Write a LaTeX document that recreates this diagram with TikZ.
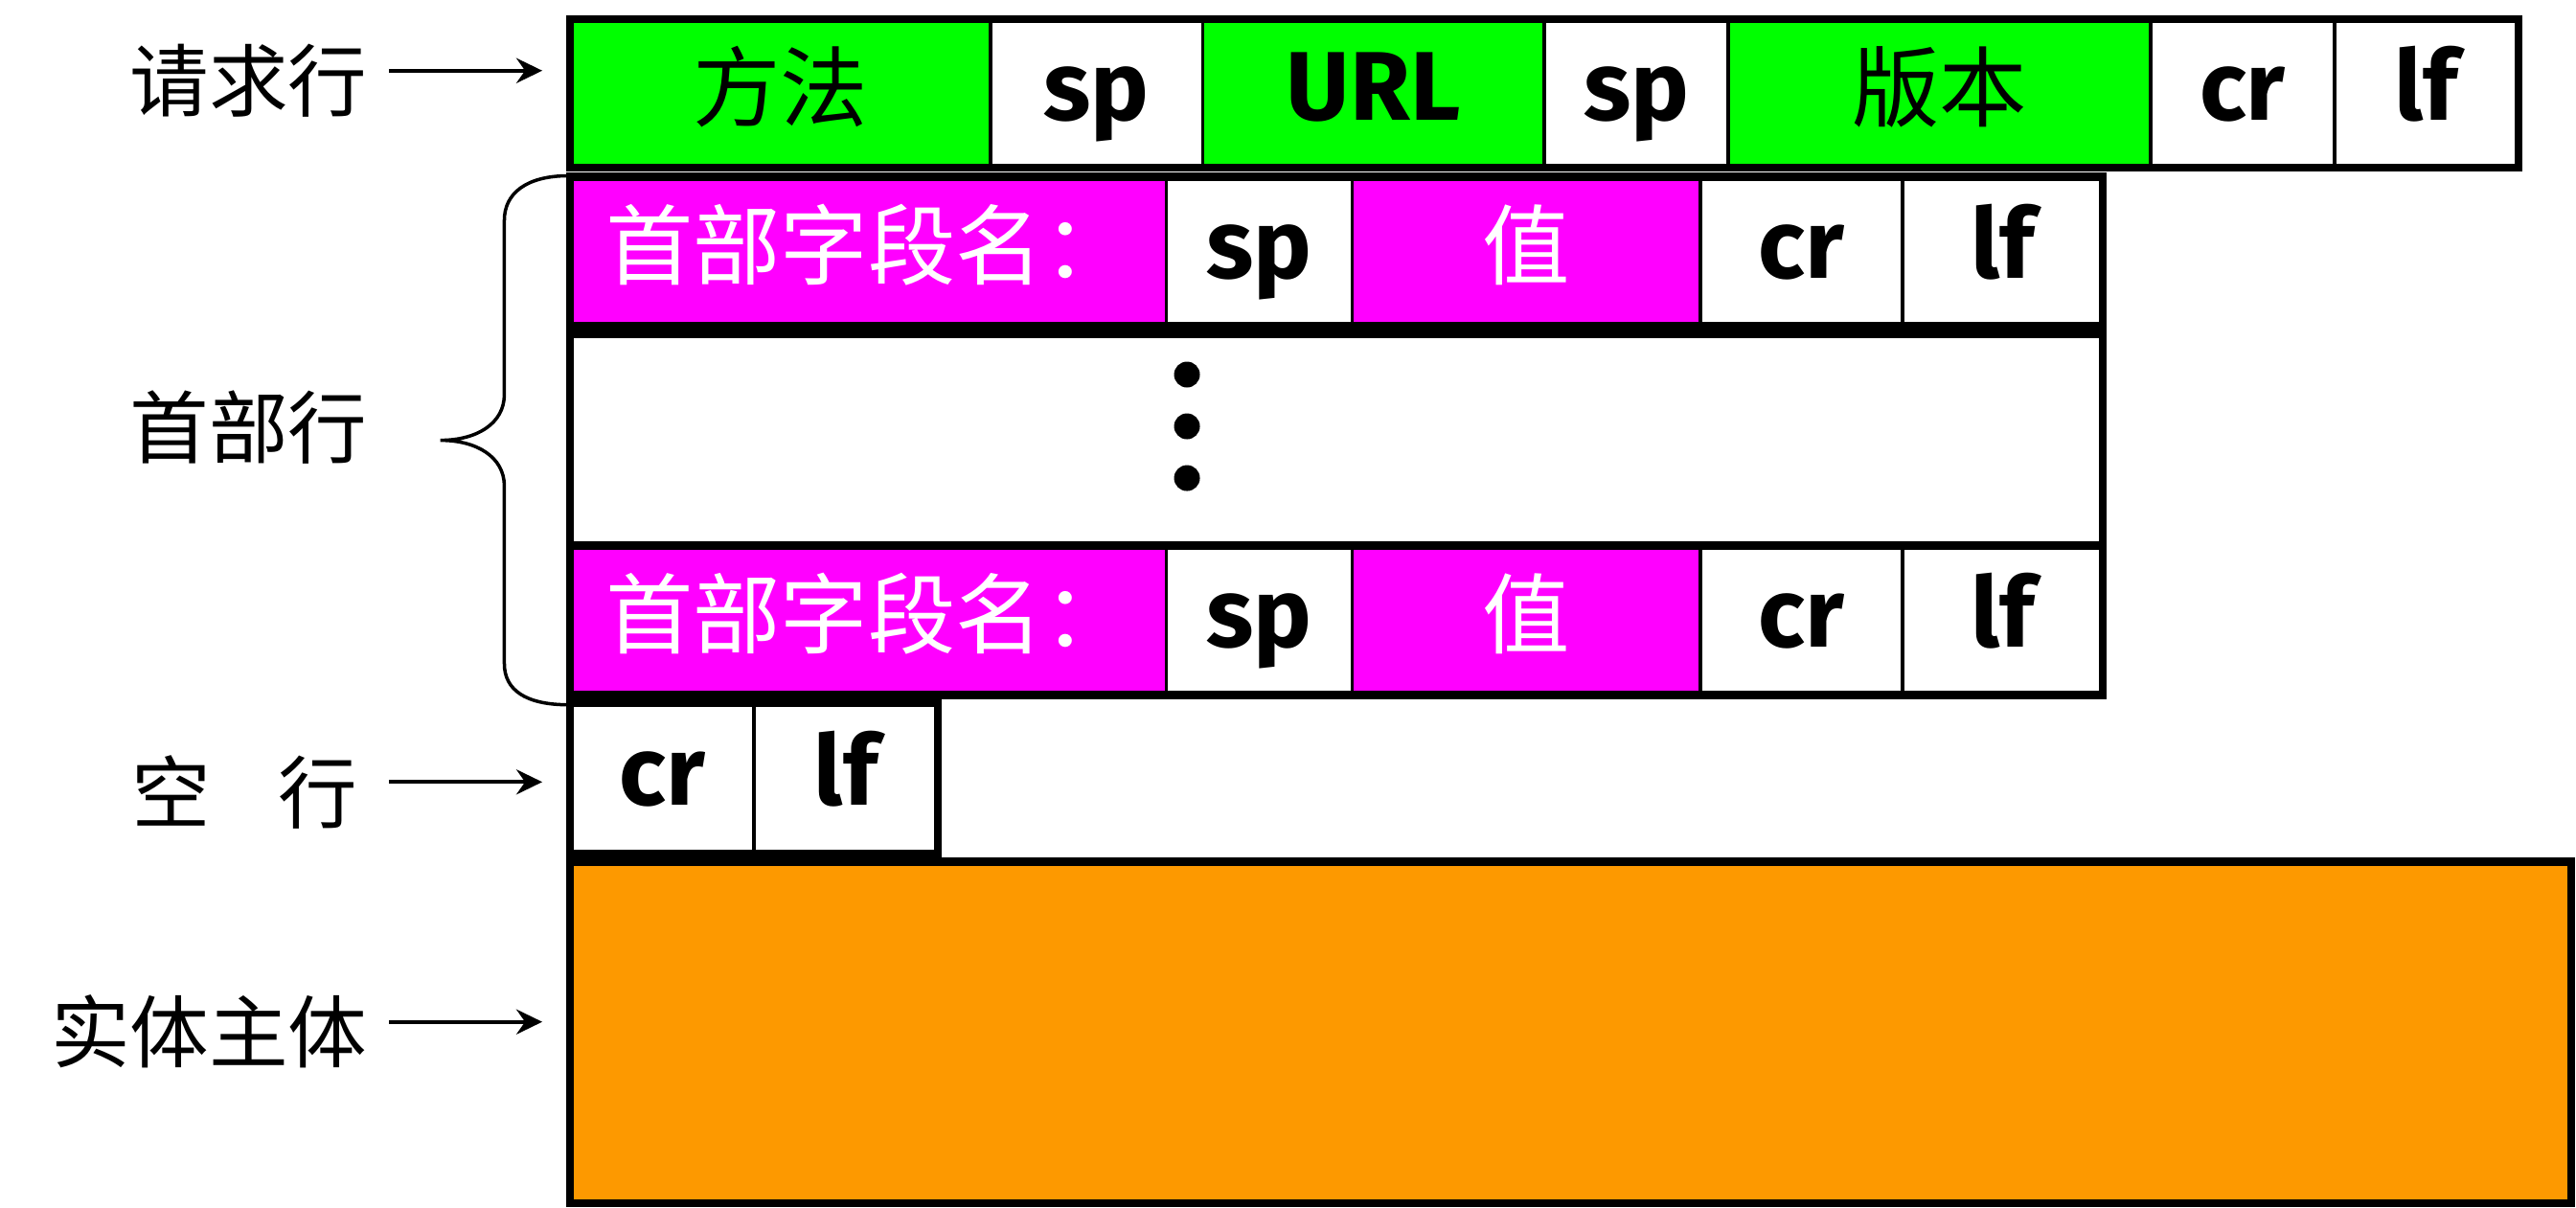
\documentclass[tikz,border=0pt]{standalone}
\usepackage{fontspec}
\setmainfont{Fira Sans}
\newfontfamily\cjk{Noto Sans CJK SC}
\usetikzlibrary{arrows.meta}
\definecolor{fieldgreen}{RGB}{0,255,0}
\definecolor{fieldmagenta}{RGB}{255,0,255}
\definecolor{bodyorange}{RGB}{253,153,0}
\tikzset{
  divline/.style={line width=1pt},
  rowline/.style={line width=2.4pt},
  celltxt/.style={inner sep=0pt, text height=20pt, text depth=4pt, font=\bfseries\fontsize{29}{33}\selectfont},
  cjktxt/.style={celltxt, font=\cjk\fontsize{26}{30}\selectfont},
  lbl/.style={anchor=east, inner sep=0pt, text height=25pt, text depth=1.2pt, font=\cjk\fontsize{23.5}{28}\selectfont},
  arr/.style={line width=1.2pt, -{Stealth[length=2.7mm,width=2.6mm,inset=0.9mm]}, shorten <=2.2mm, shorten >=2.9mm}
}
\begin{document}
\begin{tikzpicture}[x=0.1715mm,y=-0.1715mm]
\useasboundingbox (0,0) rectangle (1568,735);

\foreach \l/\r/\fc/\tc/\st/\t/\n in {347/603/fieldgreen/black/cjktxt/方法/method,
    603/732/white/black/celltxt/sp/spa, 732/940/fieldgreen/black/celltxt/URL/url,
    940/1052/white/black/celltxt/sp/spb, 1052/1309/fieldgreen/black/cjktxt/版本/version,
    1309/1421/white/black/celltxt/cr/cra, 1421/1533/white/black/celltxt/lf/lfa}
  \draw[divline,fill=\fc] (\l,11.6) rectangle (\r,102) node[pos=.5,\st,text=\tc] (\n) {\t};
\draw[rowline] (347,11.6) rectangle (1533,102);
\coordinate (reqrow) at (347,56.8);

\foreach \tp/\bt/\k in {107.5/198.5/1, 332/423/2}{
  \foreach \l/\r/\fc/\tc/\st/\t/\n in {347/710/fieldmagenta/white/cjktxt/首部字段名：/hname,
      710/823/white/black/celltxt/sp/hsp, 823/1035/fieldmagenta/white/cjktxt/值/hval,
      1035/1158/white/black/celltxt/cr/hcr, 1158/1280/white/black/celltxt/lf/hlf}
    \draw[divline,fill=\fc] (\l,\tp) rectangle (\r,\bt) node[pos=.5,\st,text=\tc] (\n\k) {\t};
  \draw[rowline] (347,\tp) rectangle (1280,\bt);
}

\draw[rowline] (347,203.5) rectangle (1280,332);
\foreach \y in {228,259.5,291}
  \fill (722.5,\y) circle[radius=1.35mm];

\draw[divline,fill=white] (347,428) rectangle (459,519.5) node[pos=.5,celltxt] (bcr) {cr};
\draw[divline,fill=white] (459,428) rectangle (571,519.5) node[pos=.5,celltxt] (blf) {lf};
\draw[rowline] (347,428) rectangle (571,519.5);
\coordinate (blankrow) at (347,474);

\draw[rowline,fill=bodyorange] (347,524.5) rectangle (1565,732.5);
\coordinate (bodyrow) at (347,628);

\node[lbl] (reqlbl) at (224,43) {请求行};
\node[lbl] (hdrlbl) at (224,254) {首部行};
\node[lbl] (blanklbl) at (218,476) {空\hspace{0.85em}行};
\node[lbl] (bodylbl) at (224,622) {实体主体};

\draw[arr] (reqlbl.east) -- (reqlbl.east -| reqrow);
\draw[arr,shorten <=3.2mm] (blanklbl.east) -- (blanklbl.east -| blankrow);
\draw[arr] (bodylbl.east) -- (bodylbl.east -| bodyrow);

\draw[line width=1pt] (346,107) .. controls (320,107) and (307,118) .. (307,134) -- (307,240)
  .. controls (307,258) and (290,268) .. (268,268) .. controls (290,268) and (307,278) .. (307,296)
  -- (307,404) .. controls (307,420) and (320,429) .. (346,429);
\end{tikzpicture}
\end{document}
